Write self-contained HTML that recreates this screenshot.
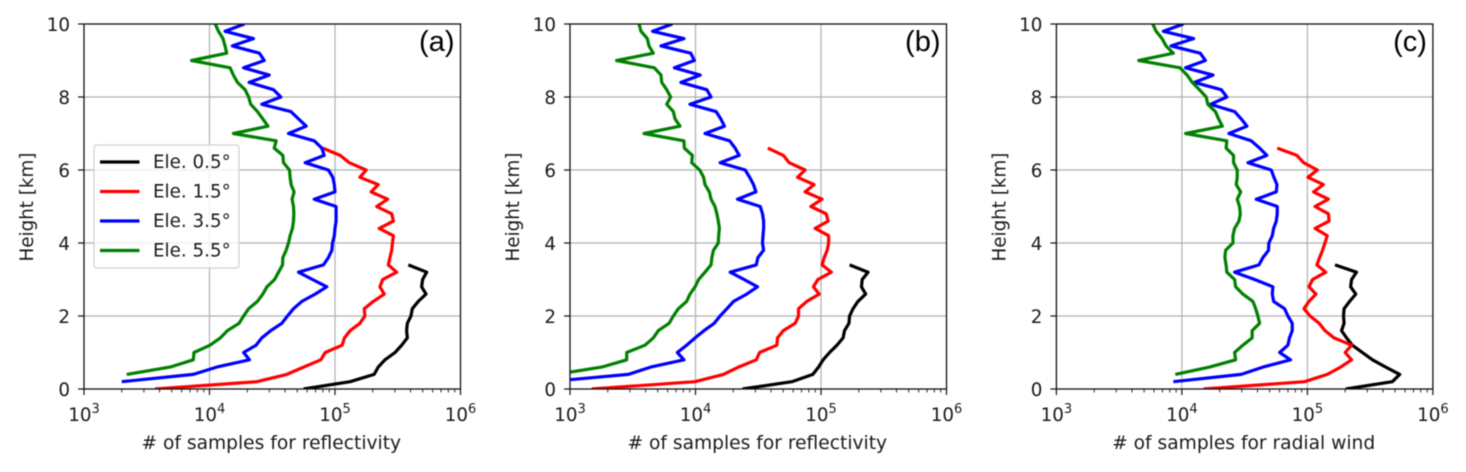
<!DOCTYPE html>
<html>
<head>
<meta charset="utf-8">
<title>Samples by height</title>
<style>
html,body{margin:0;padding:0;background:#fff;width:1466px;height:472px;overflow:hidden}
svg{display:block;filter:blur(0.45px)}
text{font-family:"DejaVu Sans","Liberation Sans",sans-serif;fill:#1a1a1a}
</style>
</head>
<body>
<svg id="chart" width="1466" height="472" viewBox="0 0 1466 472" xmlns="http://www.w3.org/2000/svg"></svg>
<script>
const heightsKm = [10,9.8,9.6,9.4,9.2,9,8.8,8.6,8.4,8.2,8,7.8,7.6,7.4,7.2,7,6.8,6.6,6.4,6.2,6,5.8,5.6,5.4,5.2,5,4.8,4.6,4.4,4.2,4,3.8,3.6,3.4,3.2,3,2.8,2.6,2.4,2.2,2,1.8,1.6,1.4,1.2,1,0.8,0.6,0.4,0.2,0];
const xTickExponents = [3,4,5,6];
const yTickValues = [0,2,4,6,8,10];
const minorMultipliers = [2,3,4,5,6,7,8,9];
const elevationLabels = ["Ele. 0.5°","Ele. 1.5°","Ele. 3.5°","Ele. 5.5°"];
const panelTags = ["(a)","(b)","(c)"];
const panelXLabels = ["# of samples for reflectivity","# of samples for reflectivity","# of samples for radial wind"];

// Values run from the first height of each series downward to the last (sample counts)
const a05 = [384000,538000,499000,490000,531000,461000,413000,403000,377000,372000,377000,340000,301000,250000,221000,205000,132000,56200];
const a15 = [80000,110000,130000,177000,158000,221000,194000,263000,215000,283000,292000,225000,292000,287000,283000,274000,266000,310000,240000,228000,247000,202000,171000,173000,158000,132000,119000,114000,83600,77100,56200,41300,23800,3680];
const a35 = [19000,13300,22400,15200,25000,27300,18700,29900,20700,32400,37000,26100,44500,51200,59000,42600,68300,78600,82000,57800,88600,96000,98800,100000,68300,102000,102000,102000,100000,98800,95500,94400,88600,80900,51200,66200,86000,69500,54400,46700,41800,37700,30800,26100,23500,18700,20800,11400,7430,2000];
const a55 = [11100,11800,12800,13300,13700,7200,14600,15500,16700,19200,20500,21300,24100,26600,29200,15500,34000,32800,38400,38900,43400,43900,44700,47200,45500,46700,47000,46700,45800,43900,42600,40800,38400,38200,35500,33000,28700,26600,24100,20500,18700,17200,13900,12200,10100,7520,7430,4840,2190];

const b05 = [169000,237000,213000,210000,227000,197000,180000,169000,167000,154000,150000,134000,117000,104000,95500,86100,58600,23700];
const b15 = [37700,50100,55800,74700,65000,88100,74700,102000,83000,110000,114000,89700,115000,115000,112000,106000,102000,121000,94400,87000,96700,77100,66200,66200,62300,50100,45000,44500,32400,30500,22000,16700,9900,1490];
const b35 = [6540,4550,8090,5310,9170,9790,6790,10900,7650,12300,13300,9040,14600,15900,17000,11900,18700,20700,22300,15700,24900,27000,29000,30300,21600,32800,34200,34900,34900,34500,34200,34900,31400,30500,18900,24400,31200,25600,20100,17800,15700,14100,11700,9920,8500,7160,8090,4390,2920,668];
const b55 = [3550,3680,4130,4260,4610,2350,4700,5310,5380,5900,6340,5900,6660,6870,7520,3890,8090,8150,9440,9330,10800,11600,11900,12900,13300,14300,14800,15200,15500,15300,15200,13900,13500,13300,11900,10600,9920,9040,8500,7300,6660,6160,5060,4610,3960,2830,2830,1790,764];

const c05 = [166000,246000,225000,221000,243000,217000,196000,194000,196000,187000,205000,228000,274000,330000,421000,544000,475000,202000];
const c15 = [57500,82500,93300,120000,101000,134000,112000,147000,115000,147000,149000,115000,144000,138000,132000,125000,119000,140000,110000,103000,117000,103000,93900,105000,124000,138000,163000,225000,200000,225000,184000,144000,95000,14900];
const c35 = [10300,7120,12400,8200,14000,15400,10700,17700,12600,20600,22800,16900,26300,29700,33000,23700,35700,41600,47500,33600,51500,54100,57200,56500,39100,57500,57500,56500,53800,52500,49300,49000,44200,41100,26300,38000,53100,52500,53800,65800,69900,75700,75700,72000,69900,60100,73400,44200,29700,8550];
const c55 = [5860,6230,6950,7470,8550,4530,9670,11000,12100,13800,15600,16100,18500,19600,21000,10700,22800,22500,25800,25800,27600,27600,27100,29400,27600,28800,29200,28500,26300,25500,25500,22300,22000,22500,22800,26300,26800,30600,36800,38700,40300,41600,36300,36300,30600,26300,26800,16600,8860];

const panelSeries = [[a05,a15,a35,a55],[b05,b15,b35,b55],[c05,c15,c35,c55]];
const seriesColors = ["#000000","#ff0000","#0000ff","#008000"];
const seriesStartIndex = [33,17,0,0];
const seriesKeys = ["ele-0-5","ele-1-5","ele-3-5","ele-5-5"];

const NS = "http://www.w3.org/2000/svg";
const svg = document.getElementById("chart");
const plotLefts = [84,570,1056.4];
const plotWidth = 376.5, plotTop = 24, plotBottom = 389;
const xMinExp = 3, xMaxExp = 6, yMax = 10;
const labelFont = 18.3;

function make(tag, attrs, parent){
  const el = document.createElementNS(NS, tag);
  for (const k in attrs) el.setAttribute(k, attrs[k]);
  (parent || svg).appendChild(el);
  return el;
}
function xScale(left, samples){
  return left + (Math.log10(samples) - xMinExp) / (xMaxExp - xMinExp) * plotWidth;
}
function yScale(km){
  return plotBottom - km / yMax * (plotBottom - plotTop);
}

panelTags.forEach(function(tag, p){
  const left = plotLefts[p];
  const right = left + plotWidth;
  const g = make("g", {});
  
  

  const clip = make("clipPath", {id: "clip" + p}, g);
  make("rect", {x: left, y: plotTop, width: plotWidth, height: plotBottom - plotTop}, clip);

  xTickExponents.forEach(function(e){
    const x = xScale(left, Math.pow(10, e));
    if (e > xMinExp && e < xMaxExp) {
      const gl = make("line", {x1: x, x2: x, y1: plotTop, y2: plotBottom, stroke: "#b0b0b0", "stroke-width": 1.2}, g);
      
      
    }
  });
  yTickValues.forEach(function(v){
    if (v > 0 && v < yMax) {
      const y = yScale(v);
      const gl = make("line", {x1: left, x2: right, y1: y, y2: y, stroke: "#b0b0b0", "stroke-width": 1.2}, g);
      
      
    }
  });

  panelSeries[p].forEach(function(values, s){
    const pts = values.map(function(v, i){
      return xScale(left, v).toFixed(2) + "," + yScale(heightsKm[seriesStartIndex[s] + i]).toFixed(2);
    }).join(" ");
    const line = make("polyline", {points: pts, fill: "none", stroke: seriesColors[s], "stroke-width": 3.2, "stroke-linejoin": "round", "clip-path": "url(#clip" + p + ")"}, g);
    
    
  });

  const frame = make("rect", {x: left, y: plotTop, width: plotWidth, height: plotBottom - plotTop, fill: "none", stroke: "#111", "stroke-width": 1.3}, g);
  
  

  xTickExponents.forEach(function(e){
    const x = xScale(left, Math.pow(10, e));
    const tick = make("line", {x1: x, x2: x, y1: plotBottom, y2: plotBottom + 6, stroke: "#111", "stroke-width": 1.2}, g);
    
    
    const t = make("text", {x: x, y: 421, "text-anchor": "middle", "font-size": labelFont}, g);
    
    
    const base = make("tspan", {}, t);
    base.textContent = "10";
    const sup = make("tspan", {dy: -8, "font-size": 13}, t);
    sup.textContent = String(e);
    if (e < xMaxExp) {
      minorMultipliers.forEach(function(m){
        const mx = xScale(left, m * Math.pow(10, e));
        const mt = make("line", {x1: mx, x2: mx, y1: plotBottom, y2: plotBottom + 3.5, stroke: "#111", "stroke-width": 0.9}, g);
        
        
      });
    }
  });
  yTickValues.forEach(function(v){
    const y = yScale(v);
    const tick = make("line", {x1: left - 6, x2: left, y1: y, y2: y, stroke: "#111", "stroke-width": 1.2}, g);
    
    
    const t = make("text", {x: left - 14, y: y + 7.2, "text-anchor": "end", "font-size": labelFont}, g);
    
    
    t.textContent = String(v);
  });

  const xt = make("text", {x: left + plotWidth / 2 - 1, y: 449, "text-anchor": "middle", "font-size": 18.65}, g);
  
  
  xt.textContent = panelXLabels[p];

  const yx = left - 51, yy = 207;
  const yt = make("text", {x: yx, y: yy, "text-anchor": "middle", "font-size": labelFont, transform: "rotate(-90 " + yx + " " + yy + ")"}, g);
  
  
  yt.textContent = "Height [km]";

  const pl = make("text", {x: right - 6, y: 51, "text-anchor": "end", "font-size": 29}, g);
  pl.style.fontFamily = '"Liberation Sans", sans-serif';
  pl.style.fill = "#000";
  
  
  pl.textContent = tag;
});

const legend = make("g", {});


make("rect", {x: 94, y: 145, width: 145, height: 123, rx: 3, fill: "#fff", "fill-opacity": 0.8, stroke: "#d0d0d0", "stroke-width": 1.2}, legend);
const legendRowY = [162, 191.5, 221, 250.5];
elevationLabels.forEach(function(label, i){
  const swatch = make("line", {x1: 100, x2: 139.5, y1: legendRowY[i], y2: legendRowY[i], stroke: seriesColors[i], "stroke-width": 3.2}, legend);
  
  
  const t = make("text", {x: 153, y: legendRowY[i] + 6, "font-size": labelFont}, legend);
  
  
  t.textContent = label;
});
</script>
</body>
</html>
